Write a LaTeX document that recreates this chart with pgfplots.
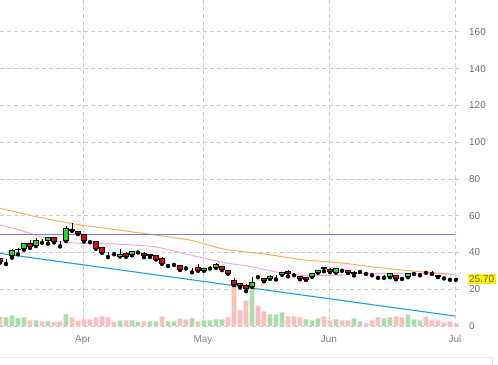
\documentclass[border=0pt]{standalone}
\usepackage{pgfplots}
\pgfplotsset{compat=1.18}
\usepackage{pgfplotstable}
\usepackage{fontspec}
\setmainfont{Liberation Sans}

\definecolor{cgreen}{RGB}{30,220,30}
\definecolor{cred}{RGB}{230,0,0}
\definecolor{vgreen}{RGB}{170,222,170}
\definecolor{vred}{RGB}{255,190,190}
\definecolor{maorange}{RGB}{255,170,90}
\definecolor{mapink}{RGB}{240,170,220}
\definecolor{levelblue}{RGB}{125,125,220}
\definecolor{trendblue}{RGB}{30,160,220}
\definecolor{gridgray}{RGB}{204,204,204}
\definecolor{labelgray}{RGB}{112,112,112}
\definecolor{navgray}{RGB}{232,232,232}

% x o h l c volume up(1)/down(0)
\pgfplotstableread{
x o h l c v u
0 36.6 37.2 34.5 35.0 4.9 0
1 36.1 36.5 33.7 36.1 4.7 1
2 38.6 42.0 37.2 41.3 5.8 1
3 41.4 42.3 39.0 41.8 4.3 1
4 42.0 45.3 41.5 45.0 4.7 1
5 45.0 46.8 42.5 43.5 3.1 0
6 43.8 47.8 43.5 46.4 3.1 1
7 46.2 47.2 45.2 46.2 2.5 0
8 46.6 48.3 44.8 48.0 2.5 1
9 48.0 48.3 45.5 45.8 2.2 0
10 45.8 46.5 43.3 45.8 2.5 0
11 46.7 54.5 46.2 53.0 6.3 1
12 52.0 55.8 51.8 52.3 4.7 0
13 51.4 51.6 50.0 50.4 2.7 0
14 49.8 50.0 46.0 46.4 3.6 0
15 46.2 47.0 45.6 46.2 3.6 0
16 45.8 46.2 42.0 42.2 4.7 0
17 42.6 43.0 39.8 40.2 5.3 0
18 39.9 40.2 37.5 39.9 4.7 0
19 39.7 40.4 39.0 39.7 2.2 0
20 38.0 41.7 37.8 39.1 3.1 1
21 39.5 40.0 37.6 37.9 3.1 0
22 38.8 41.0 38.4 40.6 3.1 1
23 40.4 40.8 40.0 40.4 2.2 1
24 39.7 40.0 37.4 38.6 2.5 0
25 38.8 39.1 37.5 38.4 2.5 1
26 38.4 38.6 36.2 36.4 2.5 1
27 37.0 37.3 33.8 34.2 5.3 0
28 33.2 33.8 32.6 33.2 2.5 1
29 33.9 34.5 33.2 33.9 2.5 1
30 33.0 33.2 30.5 30.8 4.2 0
31 31.7 32.1 31.3 31.7 3.6 0
32 31.3 31.6 29.2 31.3 4.2 1
33 31.9 33.5 30.0 30.3 2.5 0
34 30.3 31.6 30.0 31.3 3.1 1
35 31.7 32.8 31.2 31.7 3.1 1
36 31.9 34.0 31.6 33.5 3.6 1
37 32.4 32.8 30.4 30.8 3.6 1
38 30.3 30.5 28.4 28.6 4.7 0
39 24.6 26.0 22.2 22.5 21.7 0
40 23.2 23.6 21.0 22.1 8.5 0
41 22.1 22.8 19.0 20.3 14.0 0
42 21.7 26.5 21.2 23.7 19.6 1
43 26.8 27.8 26.5 26.8 10.9 0
44 25.9 26.2 24.3 24.6 8.0 0
45 25.9 27.5 25.6 27.2 6.3 1
46 26.5 27.8 25.3 26.5 6.3 1
47 28.1 29.6 27.8 29.3 7.4 1
48 29.9 30.2 27.0 28.4 5.3 0
49 27.9 28.2 27.6 27.9 5.3 0
50 27.2 27.4 25.4 26.1 4.7 0
51 26.5 26.8 25.0 25.6 3.6 1
52 27.0 29.0 26.8 28.8 3.1 1
53 29.2 30.6 29.0 30.4 4.2 1
54 31.7 31.9 29.8 31.1 5.3 0
55 31.0 31.4 29.3 29.5 3.1 0
56 29.3 31.8 29.0 31.5 3.6 1
57 30.3 30.7 30.0 30.3 3.1 0
58 30.3 30.6 28.8 29.0 3.1 0
59 29.3 29.7 27.5 28.4 4.2 1
60 29.7 30.6 29.4 29.7 2.5 1
61 28.8 29.2 28.3 28.8 1.4 0
62 27.9 28.2 27.6 27.9 3.1 0
63 26.5 26.9 26.2 26.5 4.7 0
64 26.6 27.6 26.2 26.6 4.2 1
65 26.8 29.0 26.5 28.6 4.7 1
66 27.5 27.8 25.4 26.1 5.3 0
67 25.9 26.2 25.6 25.9 4.7 0
68 26.8 28.9 26.5 28.6 6.3 1
69 28.6 29.2 28.3 28.6 3.6 1
70 28.3 28.7 27.6 28.3 3.1 1
71 29.3 30.0 28.9 29.3 5.3 0
72 29.1 29.7 28.3 29.1 3.1 0
73 27.7 27.9 26.6 26.9 3.1 0
74 26.1 26.3 25.9 26.1 2.0 0
75 25.4 25.8 25.1 25.4 2.5 0
76 25.7 26.0 25.1 25.7 1.4 0
}\candles

\pgfplotsset{
  chartaxis/.style={
    at={(0bp,39bp)}, anchor=south west, scale only axis,
    width=462bp, height=326bp,
    xmin=0, xmax=77, ymin=0, ymax=177.3,
  }
}

\begin{document}
\begin{tikzpicture}
\useasboundingbox (0bp,0bp) rectangle (498bp,365bp);
\draw[navgray, line width=0.8bp] (0bp,8bp) -- (492bp,8bp) -- (492bp,0bp);

\begin{axis}[chartaxis,
  axis line style={draw=none},
  major tick length=0pt,
  xtick={13.83,33.83,54.83,75.83},
  xticklabels={Apr,May,Jun,Jul},
  ytick={0,20,...,160},
  yticklabel pos=right,
  grid=major,
  grid style={gridgray, line width=0.8bp, dash pattern=on 4bp off 3bp},
  /pgf/number format/assume math mode=true,
  ticklabel style={font=\fontsize{10}{12}\selectfont},
  x tick label style={text=labelgray!85, anchor=north, inner sep=0pt, yshift=-9bp},
  y tick label style={text=labelgray, anchor=west, inner sep=1.5bp, xshift=5.5bp},
  extra y ticks={25.7},
  extra y tick labels={25.70},
  extra y tick style={grid=none, yticklabel style={fill=yellow, text=labelgray!90!black}},
]
% volume
\addplot[ybar, bar width=4.6bp, bar shift=0pt, fill=vgreen, draw=none]
  table[x=x, y expr={\thisrow{u}*\thisrow{v}}] {\candles};
\addplot[ybar, bar width=4.6bp, bar shift=0pt, fill=vred, draw=none]
  table[x=x, y expr={(1-\thisrow{u})*\thisrow{v}}] {\candles};
% moving averages
\addplot[maorange, line width=1bp, smooth, tension=0.4] coordinates {
 (0,64.0) (6.7,59.0) (13.3,55.0) (19.5,52.3) (25.8,49.5) (31.7,46.7) (37.5,41.7)
 (44.2,39.1) (50.8,35.9) (56.7,34.4) (63.0,31.8) (68.0,30.1) (73.7,28.6) (75.83,28.1)};
\addplot[mapink, line width=1bp, smooth, tension=0.4] coordinates {
 (0,54.9) (3.3,52.2) (6.7,48.5) (10,45.8) (13.3,45.0) (19.2,44.6) (25.8,43.1)
 (30.5,39.5) (37.5,34.4) (42,32.2) (46.3,29.2) (50.5,27.6) (56.7,27.7) (60,28.6)
 (63.3,28.6) (68,28.6) (75.83,28.1)};
% horizontal level line and trend line
\addplot[draw=levelblue, line width=1bp] coordinates {(0,50) (75.83,50)};
\addplot[draw=trendblue, line width=1.1bp] coordinates {(0,39.5) (75.83,5.4)};
% wicks
\addplot[only marks, mark=none,
  error bars/.cd, y dir=plus, y explicit, error mark=none,
  error bar style={draw=black, solid, line width=1bp}]
  table[x=x, y=l, y error plus expr={\thisrow{h}-\thisrow{l}}] {\candles};
\end{axis}

\begin{axis}[chartaxis, hide axis, ybar stacked, bar width=4.8bp]
\addplot[fill=none, draw=none]
  table[x=x, y expr={min(\thisrow{o},\thisrow{c})}] {\candles};
\addplot[fill=cgreen, draw=black, line width=0.8bp]
  table[x=x, y expr={max(\thisrow{c}-\thisrow{o},0)}] {\candles};
\addplot[fill=cred, draw=black, line width=0.8bp]
  table[x=x, y expr={max(\thisrow{o}-\thisrow{c},0)}] {\candles};
\end{axis}
\end{tikzpicture}
\end{document}
